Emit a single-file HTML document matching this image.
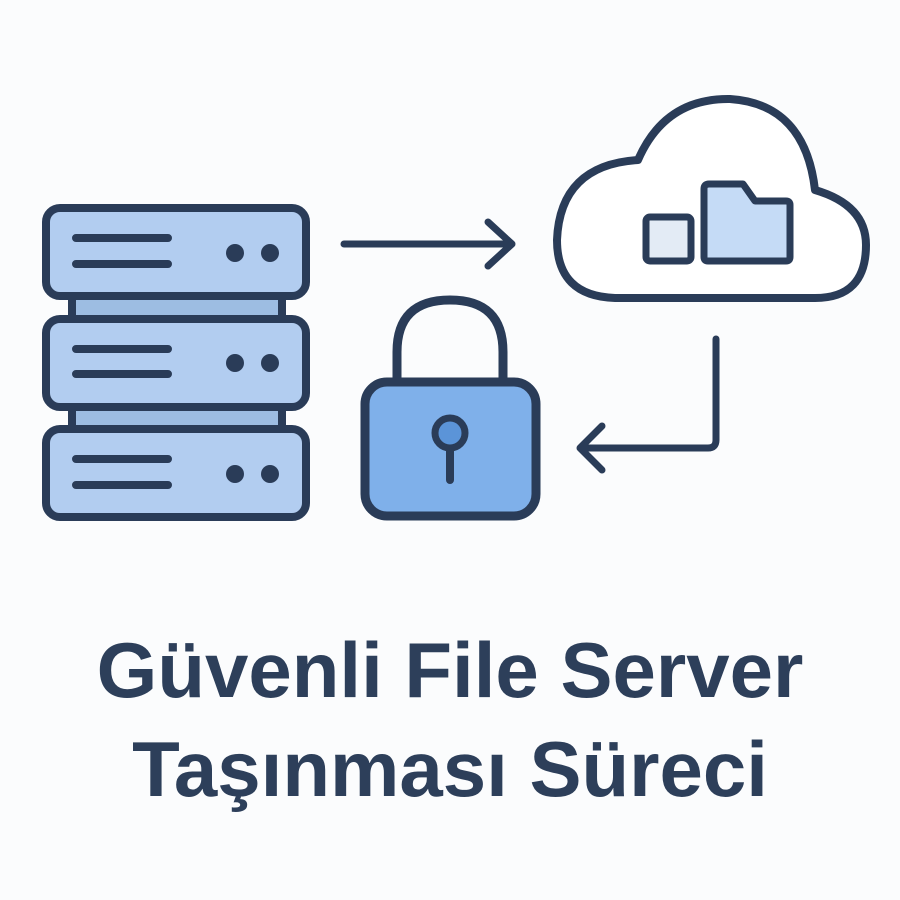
<!DOCTYPE html>
<html><head><meta charset="utf-8"><style>
html,body{margin:0;padding:0;background:#fbfcfd;}
svg{display:block}
</style></head><body>
<svg width="900" height="900" viewBox="0 0 900 900" xmlns="http://www.w3.org/2000/svg">
<rect width="900" height="900" fill="#fbfcfd"/>
<g stroke="#2a3c58" stroke-width="8" stroke-linecap="round" stroke-linejoin="round">
<rect x="72" y="294" width="210" height="28" fill="#9dbde2"/>
<rect x="72" y="404" width="210" height="28" fill="#9dbde2"/>
<rect x="46" y="208" width="260" height="88" rx="14" fill="#b2cdf0"/>
<rect x="46" y="319" width="260" height="88" rx="14" fill="#b2cdf0"/>
<rect x="46" y="429" width="260" height="88" rx="14" fill="#b2cdf0"/>
<path d="M76 238H168M76 264H168M76 349H168M76 374H168M76 459H168M76 485H168" fill="none"/>
</g>
<g fill="#2a3c58">
<circle cx="235" cy="253" r="9"/><circle cx="270" cy="253" r="9"/>
<circle cx="235" cy="363" r="9"/><circle cx="270" cy="363" r="9"/>
<circle cx="235" cy="474" r="9"/><circle cx="270" cy="474" r="9"/>
</g>
<g stroke="#2a3c58" stroke-width="7" stroke-linecap="round" stroke-linejoin="round" fill="none">
<path d="M344 244H512M488 222L512 244L488 266"/>
<path d="M716 339V440Q716 448 708 448H580M602 426L580 448L602 470"/>
<path d="M615 298Q557 296 557 240Q560 165 638 160Q665 98 730 99Q805 104 815 190Q866 205 866 245Q866 298 815 298Z" fill="#ffffff" stroke-width="8"/>
</g>
<g stroke="#2a3c58" stroke-width="7" stroke-linejoin="round">
<rect x="646" y="217" width="45" height="44" rx="4" fill="#e3ebf5"/>
<path d="M704 189Q704 184 709 184H743L755 201H786Q790 201 790 205V257Q790 261 786 261H708Q704 261 704 257Z" fill="#c5dbf6"/>
</g>
<g stroke="#2a3c58" stroke-width="9" stroke-linecap="round" stroke-linejoin="round">
<path d="M397 385V352Q397 300 450 300Q503 300 503 352V385" fill="none"/>
<rect x="365" y="382" width="171" height="134" rx="22" fill="#7fb0ea"/>
<path d="M450 436V480" fill="none" stroke-width="8"/>
<circle cx="450" cy="433" r="15" fill="#5b94d8" stroke-width="7"/>
</g>
<g font-family="'Liberation Sans', 'DejaVu Sans', sans-serif" font-weight="bold" font-size="78" fill="#2d3f5a" text-anchor="middle">
<text x="450" y="697">Güvenli File Server</text>
<text x="450" y="796">Taşınması Süreci</text>
</g>
</svg>
</body></html>
